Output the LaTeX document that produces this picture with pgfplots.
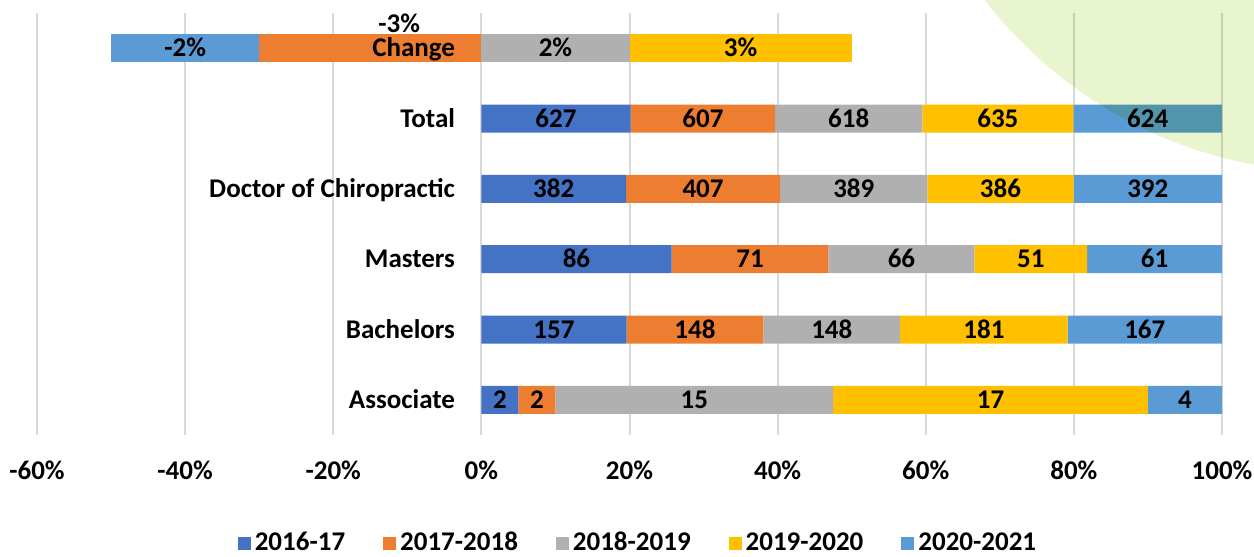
\documentclass[border=0pt]{standalone}
\usepackage{pgfplots}
\pgfplotsset{compat=1.18}
\usepackage{fontspec}
\setmainfont{Carlito}
\definecolor{cA}{HTML}{4472C4}
\definecolor{cB}{HTML}{ED7D31}
\definecolor{cC}{HTML}{B0B0B0}
\definecolor{cD}{HTML}{FFC000}
\definecolor{cE}{HTML}{5B9BD5}
\definecolor{gridc}{HTML}{D9D9D9}
\definecolor{greenbg}{RGB}{232,245,207}
\newcommand\lbl{\fontsize{13.5}{16}\selectfont\bfseries}
\pgfplotsset{base/.style={
  width=592.5pt, height=211pt, scale only axis,
  xmin=-60, xmax=100, ymin=-0.5, ymax=5.5,
  at={(0,0)}, anchor=south west,
}}
\begin{document}
\begin{tikzpicture}
% main 100% stacked bars
\begin{axis}[base, xbar stacked, bar width=14pt,
  axis line style={draw=none}, major tick length=0pt,
  xtick={-60,-40,...,100}, xmajorgrids, grid style={gridc, line width=1pt},
  xticklabel={\pgfmathprintnumber[assume math mode=true]{\tick}\%},
  xticklabel style={font=\lbl, yshift=-9.5pt},
  ytick=\empty,
  legend columns=5,
  legend style={at={(0.508,-0.256)}, anchor=center, draw=none, fill=none, font=\lbl,
    /tikz/every even column/.append style={column sep=17pt}},
  legend image code/.code={\draw[#1,draw=none] (0pt,-3.25pt) rectangle (6.5pt,3.25pt);},
]
\addplot[fill=cA, draw=none] coordinates {(5,0) (19.600,1) (25.672,2) (19.530,3) (20.154,4)};
\addlegendentry{2016-17}
\addplot[fill=cB, draw=none] coordinates {(5,0) (18.477,1) (21.194,2) (20.808,3) (19.511,4)};
\addlegendentry{2017-2018}
\addplot[fill=cC, draw=none] coordinates {(37.5,0) (18.477,1) (19.701,2) (19.888,3) (19.865,4)};
\addlegendentry{2018-2019}
\addplot[fill=cD, draw=none] coordinates {(42.5,0) (22.597,1) (15.224,2) (19.734,3) (20.412,4)};
\addlegendentry{2019-2020}
\addplot[fill=cE, draw=none] coordinates {(10,0) (20.849,1) (18.209,2) (20.041,3) (20.058,4)};
\addlegendentry{2020-2021}
\end{axis}
% change row (negatives stack to the left, positives to the right)
\begin{axis}[base, xbar stacked, stack negative=separate, bar width=14pt, hide axis]
\addplot[fill=cB, draw=none] coordinates {(-30,5)};
\addplot[fill=cE, draw=none] coordinates {(-20,5)};
\addplot[fill=cC, draw=none] coordinates {(20,5)};
\addplot[fill=cD, draw=none] coordinates {(30,5)};
\end{axis}
% labels
\begin{axis}[base, hide axis, clip=false]
\addplot[only marks, mark=*, mark size=0pt, mark options={draw=none,fill=none},
  nodes near coords, point meta=explicit symbolic,
  nodes near coords style={font=\lbl, anchor=base, inner sep=0pt, yshift=-4.4pt}]
coordinates {
 (2.5,0)[2] (7.5,0)[2] (28.75,0)[15] (68.75,0)[17] (95,0)[4]
 (9.800,1)[157] (28.839,1)[148] (47.316,1)[148] (67.853,1)[181] (89.576,1)[167]
 (12.836,2)[86] (36.269,2)[71] (56.717,2)[66] (74.179,2)[51] (90.896,2)[61]
 (9.765,3)[382] (29.934,3)[407] (50.282,3)[389] (70.093,3)[386] (89.981,3)[392]
 (10.077,4)[627] (29.910,4)[607] (49.598,4)[618] (69.736,4)[635] (89.971,4)[624]
 (-40,5)[-2\%] (-11.1,5.35)[-3\%] (10,5)[2\%] (35,5)[3\%]
};
\addplot[only marks, mark=*, mark size=0pt, mark options={draw=none,fill=none},
  nodes near coords, point meta=explicit symbolic,
  nodes near coords style={font=\lbl, anchor=base east, inner sep=0pt, yshift=-4.4pt, xshift=-13pt}]
coordinates {
 (0,0)[Associate] (0,1)[Bachelors] (0,2)[Masters] (0,3)[Doctor of Chiropractic] (0,4)[Total] (0,5)[Change]
};
\end{axis}
% decorative green shape
\begin{scope}[blend mode=multiply]
\fill[greenbg] (649pt,353pt) circle (221.5pt);
\end{scope}
\pgfresetboundingbox
\useasboundingbox (-18.5pt,-61pt) rectangle (608.5pt,217.5pt);
\end{tikzpicture}
\end{document}
